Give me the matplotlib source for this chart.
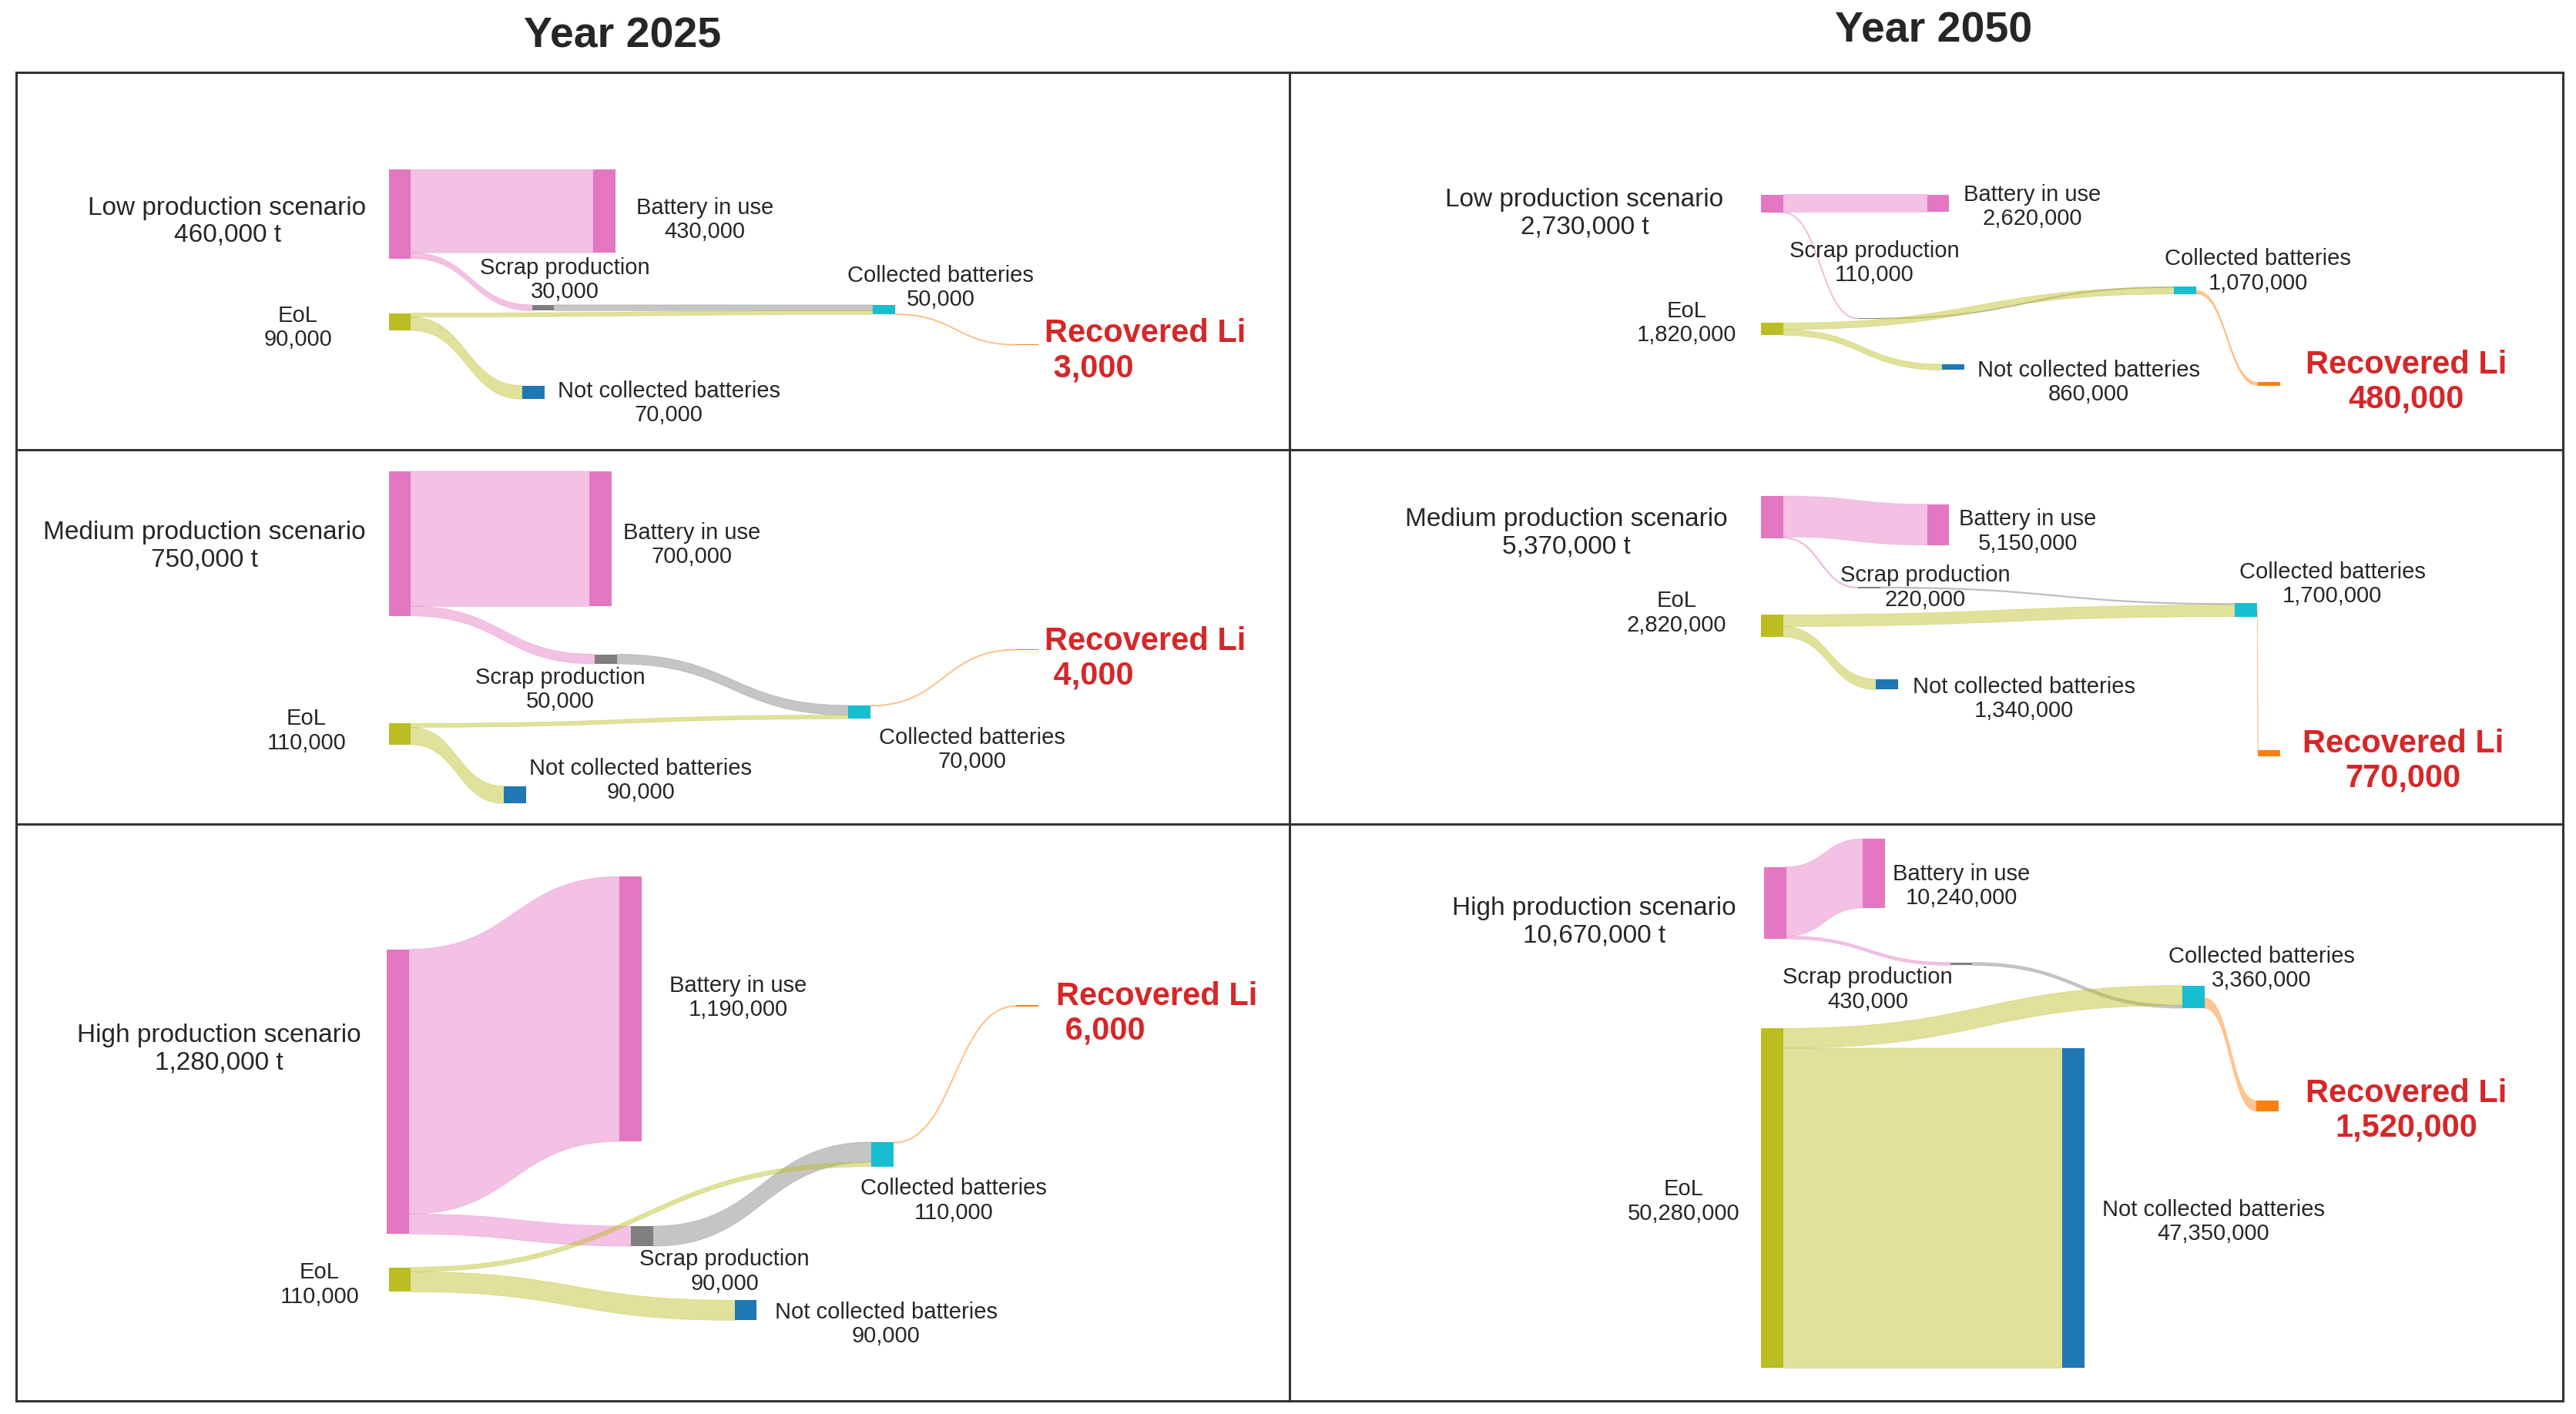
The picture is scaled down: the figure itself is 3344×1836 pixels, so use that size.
import matplotlib
matplotlib.use("Agg")
import matplotlib.pyplot as plt
from matplotlib.path import Path
from matplotlib.patches import PathPatch, Rectangle

plt.rcParams["font.family"] = ["Liberation Sans", "DejaVu Sans"]

# ---- data (tonnes), rows = year, columns = scenario ----
years = ["2025", "2050"]
scenarios = ["Low", "Medium", "High"]
production = [[460000, 750000, 1280000], [2730000, 5370000, 10670000]]
battery_in_use = [[430000, 700000, 1190000], [2620000, 5150000, 10240000]]
scrap = [[30000, 50000, 90000], [110000, 220000, 430000]]
eol = [[90000, 110000, 110000], [1820000, 2820000, 50280000]]
eol_to_collected = [[20000, 20000, 20000], [960000, 1480000, 2930000]]
collected = [[50000, 70000, 110000], [1070000, 1700000, 3360000]]
not_collected = [[70000, 90000, 90000], [860000, 1340000, 47350000]]
recovered_li = [[3000, 4000, 6000], [480000, 770000, 1520000]]

node_labels = {
    "use": "Battery in use",
    "scrap": "Scrap production",
    "eol": "EoL",
    "coll": "Collected batteries",
    "notcoll": "Not collected batteries",
}
node_colors = {
    "prod": "#e377c2", "use": "#e377c2", "scrap": "#7f7f7f", "eol": "#bcbd22",
    "coll": "#17becf", "notcoll": "#1f77b4", "li": "#ff7f0e",
}

# ---- layout on a 1564 x 858 canvas, y pointing down ----
W, H = 1564, 858
NODE_W = 13.5
PT = 3344 / W * 72 / 100  # canvas unit -> points

LAYOUT = {
    (0, 0): dict(scale=0.117e-3,
                 nodes=dict(prod=(236, 103), use=(360, 103), scrap=(323, 185), eol=(236, 190),
                            coll=(530, 185), notcoll=(317, 234), li=(617, 209)),
                 labels=dict(prod=(138, 134.5), use=(428, 133.5), scrap=(343, 170), eol=(181, 199),
                             coll=(571, 174.5), notcoll=(406, 244.5), li=(634, 213))),
    (0, 1): dict(scale=0.117e-3,
                 nodes=dict(prod=(236, 286), use=(358, 286), scrap=(361, 397), eol=(236, 439),
                            coll=(515, 428), notcoll=(306, 477), li=(617, 394)),
                 labels=dict(prod=(124, 331.5), use=(420, 330.5), scrap=(340, 418.5), eol=(186, 443.5),
                             coll=(590, 455), notcoll=(389, 473.5), li=(634, 399.5))),
    (0, 2): dict(scale=0.135e-3,
                 nodes=dict(prod=(235, 576), use=(376, 532), scrap=(383, 744), eol=(236, 769),
                            coll=(529, 693), notcoll=(446, 789), li=(617, 610)),
                 labels=dict(prod=(133, 636.5), use=(448, 605.5), scrap=(440, 771.5), eol=(194, 779.5),
                             coll=(579, 728.5), notcoll=(538, 803.5), li=(641, 615))),
    (1, 0): dict(scale=0.0041e-3,
                 nodes=dict(prod=(1069, 118), use=(1170, 118), scrap=(1128, 193), eol=(1069, 196),
                            coll=(1320, 174), notcoll=(1179, 221), li=(1371, 232)),
                 labels=dict(prod=(962, 129.5), use=(1234, 125.5), scrap=(1138, 159.5), eol=(1024, 196),
                             coll=(1371, 164.5), notcoll=(1268, 232), li=(1461, 232))),
    (1, 1): dict(scale=0.0048e-3,
                 nodes=dict(prod=(1069, 301), use=(1170, 306), scrap=(1128, 356), eol=(1069, 373),
                            coll=(1357, 366), notcoll=(1139, 412), li=(1371, 455)),
                 labels=dict(prod=(951, 323.5), use=(1231, 322.5), scrap=(1169, 356.5), eol=(1018, 372),
                             coll=(1416, 354.5), notcoll=(1229, 424), li=(1459, 462))),
    (1, 2): dict(scale=0.0041e-3,
                 nodes=dict(prod=(1071, 526), use=(1131, 509), scrap=(1184, 584), eol=(1069, 624),
                            coll=(1325, 598), notcoll=(1252, 636), li=(1370, 668)),
                 labels=dict(prod=(968, 559.5), use=(1191, 537.5), scrap=(1134, 600.5), eol=(1022, 729),
                             coll=(1373, 587.5), notcoll=(1344, 741.5), li=(1461, 674)),
                 in_order=dict(coll=["eol", "scrap"])),
}

TEXT = "#262626"
RED = "#d62728"


def ribbon(ax, x0, y0, x1, y1, w, color):
    xm = (x0 + x1) / 2
    if w < 1.5:
        c0, c1 = y0 + w / 2, y1 + w / 2
        path = Path([(x0, c0), (xm, c0), (xm, c1), (x1, c1)],
                    [Path.MOVETO, Path.CURVE4, Path.CURVE4, Path.CURVE4])
        ax.add_patch(PathPatch(path, fill=False, edgecolor=color, alpha=0.5,
                               lw=max(w, 0.9) * PT, zorder=1, capstyle="butt"))
        return
    verts = [(x0, y0), (xm, y0), (xm, y1), (x1, y1), (x1, y1 + w),
             (xm, y1 + w), (xm, y0 + w), (x0, y0 + w), (x0, y0)]
    codes = [Path.MOVETO, Path.CURVE4, Path.CURVE4, Path.CURVE4, Path.LINETO,
             Path.CURVE4, Path.CURVE4, Path.CURVE4, Path.CLOSEPOLY]
    ax.add_patch(PathPatch(Path(verts, codes), facecolor=color, edgecolor=color,
                           lw=0.5, alpha=0.45, zorder=1))


def draw_panel(ax, i, j):
    lay = LAYOUT[(i, j)]
    s = lay["scale"]
    pos = lay["nodes"]
    values = dict(prod=production[i][j], use=battery_in_use[i][j], scrap=scrap[i][j],
                  eol=eol[i][j], coll=collected[i][j], notcoll=not_collected[i][j],
                  li=recovered_li[i][j])
    links = [("prod", "use", battery_in_use[i][j], "prod"),
             ("prod", "scrap", scrap[i][j], "prod"),
             ("scrap", "coll", scrap[i][j], "scrap"),
             ("eol", "coll", eol_to_collected[i][j], "eol"),
             ("eol", "notcoll", not_collected[i][j], "eol"),
             ("coll", "li", recovered_li[i][j], "li")]
    h = {n: v * s for n, v in values.items()}
    ctr = {n: pos[n][1] + h[n] / 2 for n in pos}
    order = lay.get("in_order", {})

    # stack link ends on each node
    y_out, y_in = {}, {}
    for n in pos:
        outs = sorted([k for k, l in enumerate(links) if l[0] == n], key=lambda k: ctr[links[k][1]])
        tot = sum(links[k][2] * s for k in outs)
        y = pos[n][1]
        if outs and tot < h[n] - 0.01 and ctr[links[outs[0]][1]] > ctr[n]:
            y = pos[n][1] + h[n] - tot
        for k in outs:
            y_out[k] = y
            y += links[k][2] * s
        ins = [k for k, l in enumerate(links) if l[1] == n]
        if n in order:
            ins.sort(key=lambda k: order[n].index(links[k][0]))
        else:
            ins.sort(key=lambda k: ctr[links[k][0]])
        y = pos[n][1]
        for k in ins:
            y_in[k] = y
            y += links[k][2] * s

    for k, (a, b, v, c) in enumerate(links):
        ribbon(ax, pos[a][0] + NODE_W, y_out[k], pos[b][0], y_in[k], v * s, node_colors[c])

    for n, (x, y) in pos.items():
        ax.add_patch(Rectangle((x, y), NODE_W, h[n], facecolor=node_colors[n],
                               edgecolor="none", zorder=2))

    lab = lay["labels"]
    ax.text(*lab["prod"], f"{scenarios[j]} production scenario\n{values['prod']:,} t",
            ha="center", va="center", ma="center", fontsize=24, color=TEXT,
            linespacing=1.18, zorder=3)
    for n, name in node_labels.items():
        ax.text(*lab[n], f"{name}\n{values[n]:,}", ha="center", va="center", ma="center",
                fontsize=21, color=TEXT, linespacing=1.15, zorder=3)
    if i == 0:
        ax.text(*lab["li"], f"Recovered Li\n {values['li']:,}", ha="left", va="center",
                ma="left", fontsize=30, fontweight="bold", color=RED, linespacing=1.15, zorder=3)
    else:
        ax.text(*lab["li"], f"Recovered Li\n{values['li']:,}", ha="center", va="center",
                ma="center", fontsize=30, fontweight="bold", color=RED, linespacing=1.15, zorder=3)


fig = plt.figure(figsize=(33.44, 18.36), dpi=100)
ax = fig.add_axes([0, 0, 1, 1])
ax.set_xlim(0, W)
ax.set_ylim(H, 0)
ax.axis("off")

# panel frame
frame = dict(color="#333333", lw=2.2, zorder=4)
ax.add_patch(Rectangle((10, 44), 1546, 806, fill=False, edgecolor="#333333", lw=2.2, zorder=4))
ax.plot([783, 783], [44, 850], **frame)
ax.plot([10, 1556], [273, 273], **frame)
ax.plot([10, 1556], [500, 500], **frame)

ax.text(378, 22, f"Year {years[0]}", ha="center", va="center", fontsize=40,
        fontweight="bold", color=TEXT)
ax.text(1174, 19, f"Year {years[1]}", ha="center", va="center", fontsize=40,
        fontweight="bold", color=TEXT)

for i in range(2):
    for j in range(3):
        draw_panel(ax, i, j)

fig.savefig("out.png", dpi=100)
